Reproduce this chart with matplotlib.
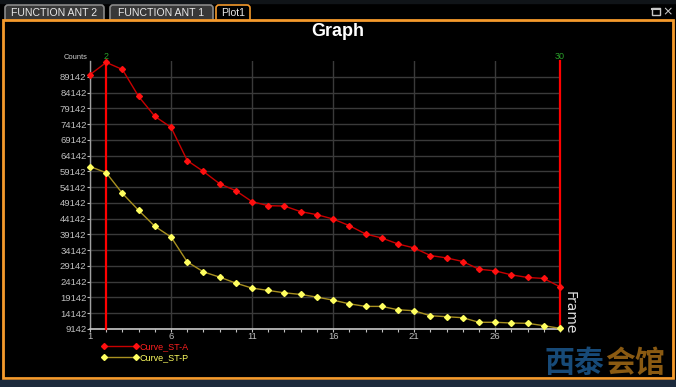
import matplotlib
matplotlib.use("Agg")
import matplotlib.pyplot as plt
from matplotlib.patches import Rectangle, FancyBboxPatch
import numpy as np

# ---- data ----
frames = list(range(1, 31))
curve_st_a = [89800, 93700, 91450, 82900, 76590, 73110, 62580, 59100, 55210, 53000,
              49520, 48260, 48140, 46360, 45410, 44020, 41930, 39280, 38020, 36110,
              34850, 32450, 31690, 30550, 28110, 27580, 26310, 25490, 25170, 22520]
curve_st_p = [60680, 58690, 52150, 46770, 41710, 38330, 30420, 27260, 25590, 23690,
              22110, 21370, 20620, 20100, 19250, 18290, 17130, 16310, 16310, 15250,
              14930, 13350, 13040, 12720, 11270, 11270, 11040, 10940, 10190, 9360]
y_ticks = [9142 + 5000 * k for k in range(17)]
x_ticks = [1, 6, 11, 16, 21, 26]
cursors = [2, 30]
series_names = ["Curve_ST-A", "Curve_ST-P"]
tab_labels = ["FUNCTION ANT 2", "FUNCTION ANT 1", "Plot1"]

W, H = 676, 387
fig = plt.figure(figsize=(W / 100, H / 100), dpi=100, facecolor="black")

# ---- window chrome (pixel coordinates) ----
bg = fig.add_axes([0, 0, 1, 1])
bg.set_xlim(0, W)
bg.set_ylim(H, 0)
bg.axis("off")
bg.set_zorder(0)
orange = "#f59a2c"
bg.add_patch(Rectangle((0, 0), W, H, color="black"))
bg.add_patch(Rectangle((0, 0), W, 3, color="#101418"))
# tabs
tabs = [(3, 106), (108, 215), (214, 252)]
for i, ((x0, x1), lab) in enumerate(zip(tabs, tab_labels)):
    active = (lab == "Plot1")
    p = FancyBboxPatch((x0 + 2, 5), x1 - x0 - 4, 18,
                       boxstyle="round,pad=0,rounding_size=3",
                       fc="black" if active else "#383838",
                       ec=orange if active else "#8a8a8a", lw=1.2)
    bg.add_patch(p)
    bg.text((x0 + x1) / 2, 13, lab, color="#e8e8e8", fontsize=7.6,
            ha="center", va="center", family="Liberation Sans")
# main panel border
bg.add_patch(Rectangle((3, 20), W - 6, 357.5, fc="black", ec=orange, lw=2))
bg.add_patch(Rectangle((0, 380), W, 7, color="#1c2a3c"))
# window icons
bg.add_patch(Rectangle((652, 8), 8, 7, fc="none", ec="#c8c8c8", lw=1))
bg.plot([652, 660], [9, 9], color="#c8c8c8", lw=1.5)
bg.text(668, 12, "×", color="#c8c8c8", fontsize=9, ha="center", va="center",
        family="DejaVu Sans")
# title
bg.text(338, 32, "Graph", color="white", fontsize=13, fontweight="bold",
        ha="center", va="center", family="Liberation Sans")
bg.text(76, 57.5, "Counts", color="#d0d0d0", fontsize=5.4, ha="center", va="center",
        family="Liberation Sans")
# axis label (rotated, right side)
bg.text(570, 313, "Frame", rotation=270, color="#e0e0e0", fontsize=10,
        ha="center", va="center", family="DejaVu Sans")
# watermark
bg.text(545, 363, "西泰", color="#174a78", fontsize=21.5, fontweight="bold",
        ha="left", va="center", family="Noto Sans CJK SC")
bg.text(605, 363, "会馆", color="#8a5a12", fontsize=21.5, fontweight="bold",
        ha="left", va="center", family="Noto Sans CJK SC")

# ---- plot axes ----
left, right, top, bottom = 90, 560, 61, 329
ax = fig.add_axes([left / W, 1 - bottom / H, (right - left) / W, (bottom - top) / H])
ax.set_zorder(1)
ax.set_facecolor("none")
ax.set_xlim(1, 30)
ax.set_ylim(9142, 94142)

ax.set_yticks(y_ticks)
ax.set_yticklabels([str(v) for v in y_ticks])
ax.set_xticks(x_ticks)
ax.set_xticks(frames, minor=True)
ax.grid(True, which="major", color="#3a3a3a", lw=1)
ax.tick_params(axis="both", which="major", colors="#c0c0c0", labelsize=6.8,
               length=2, width=0.8, pad=0.5)
ax.tick_params(axis="x", which="minor", colors="#c0c0c0", length=2, width=0.8)
ax.tick_params(axis="x", which="major", pad=0.5)
for lab in ax.get_xticklabels() + ax.get_yticklabels():
    lab.set_family("Liberation Sans")
for s in ["top", "right"]:
    ax.spines[s].set_visible(False)
ax.spines["left"].set_color("#a0a0a0")
ax.spines["bottom"].set_color("#c8c8c8")
ax.spines["left"].set_linewidth(1)
ax.spines["bottom"].set_linewidth(1.2)

la, = ax.plot(frames, curve_st_a, color="#c80000", lw=1, marker="D", ms=3,
              mfc="#ff1010", mec="#ff1010", label=series_names[0], clip_on=False, zorder=4)
lp, = ax.plot(frames, curve_st_p, color="#a89020", lw=1, marker="D", ms=3,
              mfc="#ffff60", mec="#ffff60", label=series_names[1], clip_on=False, zorder=4)

for c in cursors:
    ax.axvline(c, color="#ff0000", lw=1.6, zorder=3, clip_on=False)
    ax.text(c, 94142, str(c), color="#2aa02a", fontsize=6.5, ha="center",
            va="bottom", family="Liberation Sans")

leg = fig.legend(handles=[la, lp], loc="upper left",
                 bbox_to_anchor=(101 / W, 1 - 342 / H), bbox_transform=fig.transFigure,
                 frameon=False, fontsize=6.5, numpoints=2, handlelength=4.2,
                 handletextpad=0.1, labelspacing=0.25, borderpad=0, borderaxespad=0)
for t, col in zip(leg.get_texts(), ["#ff2020", "#ffff60"]):
    t.set_color(col)
    t.set_family("Liberation Sans")

fig.savefig("out.png", dpi=100, facecolor="black")
